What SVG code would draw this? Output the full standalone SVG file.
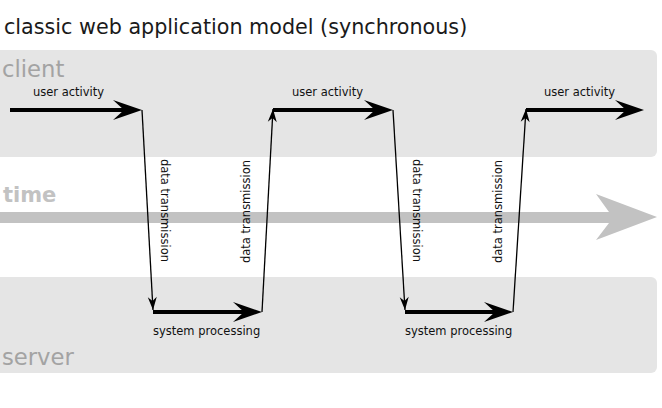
<svg xmlns="http://www.w3.org/2000/svg" width="662" height="408" viewBox="0 0 662 408">
<style>
text{font-family:"DejaVu Sans","Verdana",sans-serif;}
.band{fill:#e5e5e5;}
.title{font-size:20.7px;fill:#1a1a1a;}
.role{font-size:22.7px;fill:#a3a3a3;}
.time{font-size:21px;font-weight:bold;fill:#c2c2c2;}
.lbl{font-size:11.5px;fill:#111;}
.thick{stroke:#000;stroke-width:4;fill:none;}
.thin{stroke:#000;stroke-width:1.3;fill:none;}
</style>
<defs>
<marker id="bigHead" markerUnits="userSpaceOnUse" markerWidth="40" markerHeight="30" refX="0" refY="0" orient="auto" overflow="visible">
<path d="M-11,-10 L18,0 L-11,10 L0,0 Z" fill="#000"/>
</marker>
<marker id="smallHead" markerUnits="userSpaceOnUse" markerWidth="20" markerHeight="20" refX="0" refY="0" orient="auto" overflow="visible">
<path d="M0,0 L-13,-4.5 L-9,0 L-13,4.5 Z" fill="#000"/>
</marker>
</defs>
<rect width="662" height="408" fill="#fff"/>
<text class="title" x="4" y="34">classic web application model (synchronous)</text>
<g id="client">
<rect class="band" x="-10" y="50" width="667" height="107" rx="6"/>
<text class="role" x="2" y="77">client</text>
</g>
<g id="time">
<path d="M0,212 H609 L596,194 L657,217 L596,240 L609,223 H0 Z" fill="#c2c2c2"/>
<text class="time" x="3" y="202">time</text>
</g>
<g id="server">
<rect class="band" x="-10" y="277" width="667" height="96" rx="6"/>
<text class="role" x="2" y="365">server</text>
</g>
<g id="connectors">
<line class="thick" x1="10" y1="110" x2="124" y2="110" marker-end="url(#bigHead)"/>
<line class="thin" x1="142" y1="110" x2="153" y2="310" marker-end="url(#smallHead)"/>
<line class="thick" x1="153" y1="312" x2="244" y2="312" marker-end="url(#bigHead)"/>
<line class="thin" x1="262" y1="312" x2="273" y2="109" marker-end="url(#smallHead)"/>
<line class="thick" x1="273" y1="110" x2="375" y2="110" marker-end="url(#bigHead)"/>
<line class="thin" x1="393" y1="110" x2="405" y2="310" marker-end="url(#smallHead)"/>
<line class="thick" x1="405" y1="312" x2="495" y2="312" marker-end="url(#bigHead)"/>
<line class="thin" x1="513" y1="312" x2="526" y2="109" marker-end="url(#smallHead)"/>
<line class="thick" x1="526" y1="110" x2="626" y2="110" marker-end="url(#bigHead)"/>
</g>
<g id="labels">
<text class="lbl" x="33" y="96">user activity</text>
<text class="lbl" x="292" y="96">user activity</text>
<text class="lbl" x="544" y="96">user activity</text>
<text class="lbl" x="153" y="335">system processing</text>
<text class="lbl" x="405" y="335">system processing</text>
<text class="lbl" transform="translate(161,159) rotate(90)">data transmission</text>
<text class="lbl" transform="translate(250,263) rotate(-90)">data transmission</text>
<text class="lbl" transform="translate(413,159) rotate(90)">data transmission</text>
<text class="lbl" transform="translate(502,263) rotate(-90)">data transmission</text>
</g>
</svg>
